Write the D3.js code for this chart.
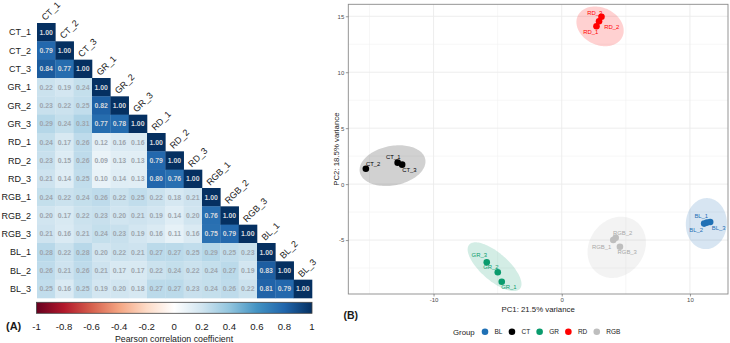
<!DOCTYPE html>
<html><head><meta charset="utf-8">
<script src="https://cdn.jsdelivr.net/npm/d3@7"></script>
<style>body{margin:0;background:#fff} svg{display:block;font-family:"Liberation Sans",Arial,Helvetica,sans-serif}</style>
</head><body><svg id="c" width="730" height="343"></svg>
<script>
// ---------- Data: correlation matrix (lower triangle) ----------
const samples = ["CT_1","CT_2","CT_3","GR_1","GR_2","GR_3","RD_1","RD_2","RD_3","RGB_1","RGB_2","RGB_3","BL_1","BL_2","BL_3"];
const corrRows = [
  [1.00],
  [0.79,1.00],
  [0.84,0.77,1.00],
  [0.22,0.19,0.24,1.00],
  [0.23,0.22,0.25,0.82,1.00],
  [0.29,0.24,0.31,0.77,0.78,1.00],
  [0.24,0.17,0.26,0.12,0.16,0.16,1.00],
  [0.23,0.15,0.26,0.09,0.13,0.13,0.79,1.00],
  [0.21,0.14,0.25,0.10,0.14,0.13,0.80,0.76,1.00],
  [0.24,0.22,0.24,0.26,0.22,0.25,0.22,0.18,0.21,1.00],
  [0.20,0.17,0.22,0.23,0.20,0.21,0.19,0.14,0.20,0.76,1.00],
  [0.21,0.16,0.21,0.24,0.23,0.19,0.16,0.11,0.16,0.75,0.79,1.00],
  [0.28,0.22,0.28,0.20,0.22,0.21,0.27,0.27,0.25,0.29,0.25,0.23,1.00],
  [0.26,0.21,0.26,0.21,0.17,0.17,0.22,0.24,0.22,0.24,0.27,0.19,0.83,1.00],
  [0.25,0.16,0.25,0.19,0.20,0.18,0.27,0.27,0.23,0.24,0.26,0.22,0.81,0.79,1.00]
];
const colorTicks = [-1,-0.8,-0.6,-0.4,-0.2,0,0.2,0.4,0.6,0.8,1];
const colorTickLabels = ["-1","-0.8","-0.6","-0.4","-0.2","0","0.2","0.4","0.6","0.8","1"];
const colorStops = ["#67001F","#B2182B","#D6604D","#F4A582","#FDDBC7","#FFFFFF","#D1E5F0","#92C5DE","#4393C3","#2166AC","#053061"];

// ---------- Data: PCA ----------
const pcaNames = ["CT_1","CT_2","CT_3","GR_1","GR_2","GR_3","RD_1","RD_2","RD_3","RGB_1","RGB_2","RGB_3","BL_1","BL_2","BL_3"];
const pcaGroup = ["CT","CT","CT","GR","GR","GR","RD","RD","RD","RGB","RGB","RGB","BL","BL","BL"];
const pc1 = [-12.80,-15.28,-12.45,-4.68,-4.99,-5.85,2.71,2.91,3.10,4.02,4.21,4.54,11.33,11.11,11.58];
const pc2 = [1.92,1.38,1.74,-8.72,-7.88,-6.99,14.11,14.55,14.96,-5.00,-4.79,-5.60,-3.44,-3.53,-3.38];
const groups = ["BL","CT","GR","RD","RGB"];
const groupColors = ["#1f70b5","#000000","#0a9b6d","#ff0000","#bebebe"];
// ellipse per group (data units): centre, semi-axes, angle (deg)
const ellCx = [11.28,-13.2,-5.24,2.99,4.29];
const ellCy = [-3.53,1.65,-7.38,14.1,-5.65];
const ellA  = [2.28,2.62,2.8,2.0,2.8];
const ellB  = [1.6,1.75,1.15,1.6,2.2];
const ellAng= [88,15,-46.5,-40,70];
const xTicks = [-10,0,10];
const yTicks = [-5,0,5,10,15];
const xMinor = [-15,-5,5];
const yMinor = [-7.5,-2.5,2.5,7.5,12.5];

// label nudges (layout, px)
const labelNudge = [[-4.4,-6],[7.3,-5],[7.2,5.3],[7.1,5.6],[-6.9,-5.6],[-7.5,-7.3],[-5.7,5.7],[12.7,5.7],[-6.8,-4.2],[-11.6,7.3],[7,-4.4],[7.3,5.6],[-5.7,-6.8],[-8,5.8],[8.5,5.9]];

const svg = d3.select("#c");
const FONT = '"Liberation Sans",Arial,Helvetica,sans-serif';

// ================= Panel A =================
const color = d3.scaleLinear().domain(colorTicks).range(colorStops);
const xb = d3.scaleBand().domain(samples).range([37, 312]);
const yb = d3.scaleBand().domain(samples).range([23, 298]);
const A = svg.append("g");
const cells = [];
corrRows.forEach((row,i)=>row.forEach((v,j)=>cells.push({r:samples[i], c:samples[j], v})));
A.selectAll("rect.cell").data(cells).join("rect").attr("class","cell")
  .attr("x",d=>xb(d.c)).attr("y",d=>yb(d.r))
  .attr("width",xb.bandwidth()+0.3).attr("height",yb.bandwidth()+0.3)
  .attr("fill",d=>color(d.v));
A.selectAll("text.num").data(cells).join("text").attr("class","num")
  .attr("x",d=>xb(d.c)+xb.bandwidth()/2).attr("y",d=>yb(d.r)+yb.bandwidth()/2+2.5)
  .attr("text-anchor","middle").attr("font-size",6.9).attr("font-weight","bold")
  .attr("fill",d=>d.v>0.5?"#d6d9de":"#9ea6ae")
  .text(d=>d.v.toFixed(2));
// row labels
A.selectAll("text.rl").data(samples).join("text").attr("class","rl")
  .attr("x",31).attr("y",d=>yb(d)+yb.bandwidth()/2+3.2)
  .attr("text-anchor","end").attr("font-size",9).attr("fill","#1a1a1a").text(d=>d);
// column labels (diagonal)
A.selectAll("text.cl").data(samples).join("text").attr("class","cl")
  .attr("transform",d=>`translate(${xb(d)+xb.bandwidth()/2-1},${yb(d)-2}) rotate(-45)`)
  .attr("font-size",9).attr("fill","#1a1a1a").text(d=>d);
// colorbar
const cbx = d3.scaleLinear().domain([-1,1]).range([36.5,312]);
const grad = svg.append("defs").append("linearGradient").attr("id","rdbu");
colorTicks.forEach((t,i)=>grad.append("stop").attr("offset",(t+1)/2).attr("stop-color",colorStops[i]));
A.append("rect").attr("x",cbx(-1)).attr("y",302.3).attr("width",cbx(1)-cbx(-1)).attr("height",11)
  .attr("fill","url(#rdbu)").attr("stroke","#444").attr("stroke-width",0.8);
A.selectAll("text.ct").data(colorTicks).join("text").attr("class","ct")
  .attr("x",d=>cbx(d)).attr("y",329.5).attr("text-anchor","middle")
  .attr("font-size",9.6).attr("fill","#1a1a1a").text((d,i)=>colorTickLabels[i]);
A.append("text").attr("x",174).attr("y",342).attr("text-anchor","middle")
  .attr("font-size",8.8).attr("fill","#1a1a1a").text("Pearson correlation coefficient");
A.append("text").attr("x",6).attr("y",330).attr("font-size",11).attr("font-weight","bold")
  .attr("fill","#1a1a1a").text("(A)");

// ================= Panel B =================
const px0=348.3, px1=728, py0=4.3, py1=294;
const x = d3.scaleLinear().domain([-16.65,12.97]).range([px0,px1]);
const y = d3.scaleLinear().domain([-9.82,16.07]).range([py1,py0]);
const B = svg.append("g");
B.append("rect").attr("x",px0).attr("y",py0).attr("width",px1-px0).attr("height",py1-py0).attr("fill","#fff");
B.selectAll("line.xm").data(xMinor).join("line").attr("x1",d=>x(d)).attr("x2",d=>x(d)).attr("y1",py0).attr("y2",py1)
  .attr("stroke","#f2f2f2").attr("stroke-width",0.6);
B.selectAll("line.ym").data(yMinor).join("line").attr("y1",d=>y(d)).attr("y2",d=>y(d)).attr("x1",px0).attr("x2",px1)
  .attr("stroke","#f2f2f2").attr("stroke-width",0.6);
B.selectAll("line.xg").data(xTicks).join("line").attr("x1",d=>x(d)).attr("x2",d=>x(d)).attr("y1",py0).attr("y2",py1)
  .attr("stroke","#ebebeb").attr("stroke-width",0.9);
B.selectAll("line.yg").data(yTicks).join("line").attr("y1",d=>y(d)).attr("y2",d=>y(d)).attr("x1",px0).attr("x2",px1)
  .attr("stroke","#ebebeb").attr("stroke-width",0.9);

// ellipses
const ellLine = d3.line().curve(d3.curveLinearClosed);
const ells = groups.map((g,i)=>{
  const th = ellAng[i]*Math.PI/180;
  const pts = d3.range(0,120).map(k=>{
    const t = k/120*2*Math.PI;
    const ex = ellCx[i] + ellA[i]*Math.cos(t)*Math.cos(th) - ellB[i]*Math.sin(t)*Math.sin(th);
    const ey = ellCy[i] + ellA[i]*Math.cos(t)*Math.sin(th) + ellB[i]*Math.sin(t)*Math.cos(th);
    return [x(ex), y(ey)];
  });
  return {g, c:groupColors[i], pts};
});
B.selectAll("path.ell").data(ells).join("path").attr("class","ell")
  .attr("d",d=>ellLine(d.pts)).attr("fill",d=>d.c).attr("fill-opacity",0.18).attr("stroke","none");

const gcol = g=>groupColors[groups.indexOf(g)];
const pts = pcaNames.map((n,i)=>({n, g:pcaGroup[i], x:pc1[i], y:pc2[i], nd:labelNudge[i]}));
B.selectAll("circle.pt").data(pts).join("circle").attr("class","pt")
  .attr("cx",d=>x(d.x)).attr("cy",d=>y(d.y)).attr("r",3.3).attr("fill",d=>gcol(d.g));
B.selectAll("text.pl").data(pts).join("text").attr("class","pl")
  .attr("x",d=>x(d.x)+d.nd[0]).attr("y",d=>y(d.y)+d.nd[1]+2.1)
  .attr("text-anchor","middle").attr("font-size",5.9).attr("fill",d=>d.g==="RGB"?"#a8a8a8":gcol(d.g)).text(d=>d.n);

B.append("rect").attr("x",px0).attr("y",py0).attr("width",px1-px0).attr("height",py1-py0)
  .attr("fill","none").attr("stroke","#8a8a8a").attr("stroke-width",0.9);

// axes
const xa = B.append("g").attr("transform",`translate(0,${py1})`)
  .call(d3.axisBottom(x).tickValues(xTicks).tickSize(2.5).tickPadding(1.5).tickFormat(d3.format("d")));
const ya = B.append("g").attr("transform",`translate(${px0},0)`)
  .call(d3.axisLeft(y).tickValues(yTicks).tickSize(2.5).tickPadding(1.5).tickFormat(d3.format("d")));
[xa,ya].forEach(a=>{
  a.select(".domain").remove();
  a.selectAll(".tick line").attr("stroke","#555").attr("stroke-width",0.6);
  a.selectAll(".tick text").attr("font-size",6).attr("fill","#4d4d4d").attr("font-family",FONT);
});
xa.selectAll(".tick text").text(d=>d<0?"-"+Math.abs(d):d);
ya.selectAll(".tick text").text(d=>d<0?"-"+Math.abs(d):d);

B.append("text").attr("x",(px0+px1)/2).attr("y",312).attr("text-anchor","middle")
  .attr("font-size",7.8).attr("fill","#1a1a1a").text("PC1: 21.5% variance");
B.append("text").attr("transform",`translate(339,${(py0+py1)/2}) rotate(-90)`).attr("text-anchor","middle")
  .attr("font-size",7.8).attr("fill","#1a1a1a").text("PC2: 18.5% variance");
B.append("text").attr("x",343.5).attr("y",318.5).attr("font-size",10.5).attr("font-weight","bold")
  .attr("fill","#1a1a1a").text("(B)");

// legend
const L = B.append("g");
L.append("text").attr("x",453).attr("y",334.5).attr("font-size",7.8).attr("fill","#1a1a1a").text("Group");
let lx = 485;
groups.forEach((g,i)=>{
  L.append("circle").attr("cx",lx).attr("cy",331.7).attr("r",3.3).attr("fill",groupColors[i]);
  const t = L.append("text").attr("x",lx+9.5).attr("y",334).attr("font-size",6.5).attr("fill","#1a1a1a").text(g);
  lx = lx + 9.5 + t.node().getComputedTextLength() + 9.5;
});
</script></body></html>
